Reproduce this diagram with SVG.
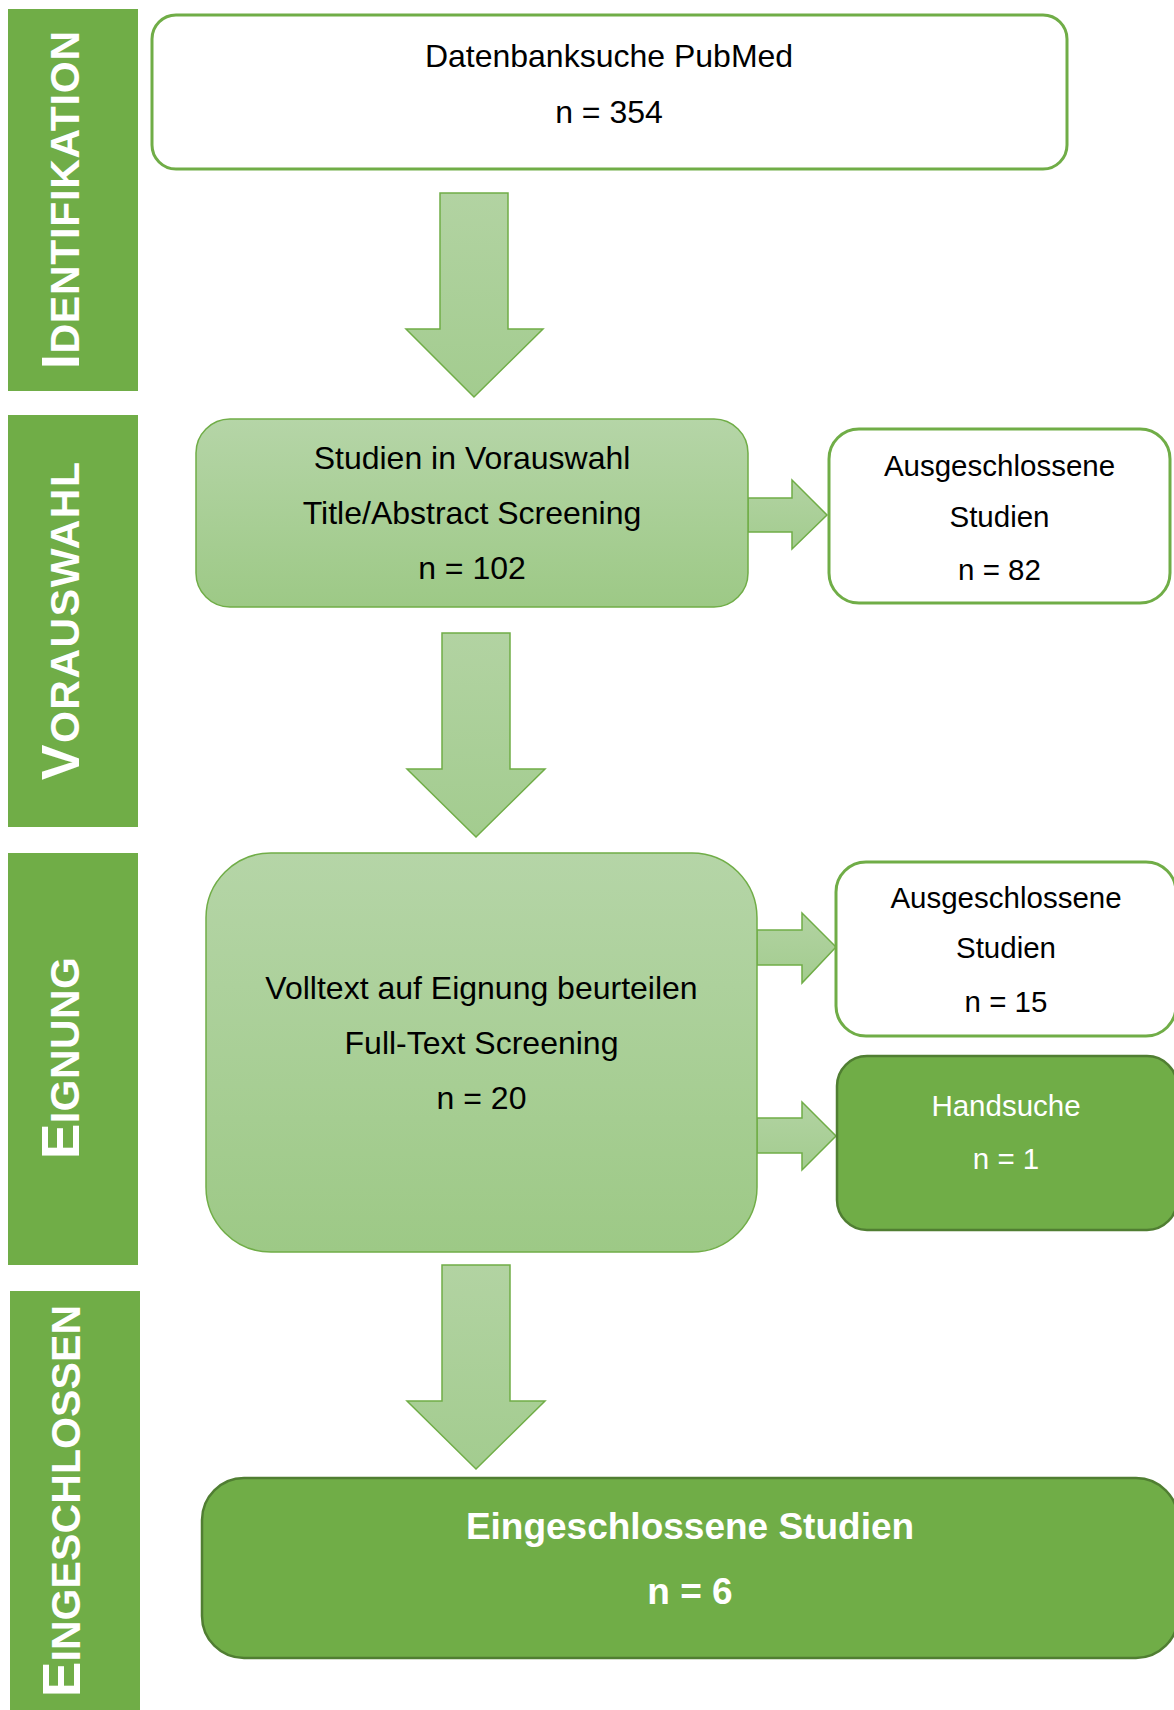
<svg xmlns="http://www.w3.org/2000/svg" width="1174" height="1710" viewBox="0 0 1174 1710">
<defs>
<linearGradient id="gv" x1="0" y1="0" x2="0" y2="1">
<stop offset="0" stop-color="#B5D5A7"/>
<stop offset="1" stop-color="#9DC986"/>
</linearGradient>
<linearGradient id="gh" x1="0" y1="0" x2="0" y2="1">
<stop offset="0" stop-color="#B2D3A2"/>
<stop offset="1" stop-color="#A3CC8F"/>
</linearGradient>
<style>
.bar{fill:#70AD47}
.lab{font-family:"Liberation Sans",Arial,sans-serif;font-weight:bold;fill:#FFFFFF;font-size:41px}
.big{font-size:53px}
.wbox{fill:#FFFFFF;stroke:#70AD47;stroke-width:3}
.gbox{fill:url(#gv);stroke:#70AD47;stroke-width:1.5}
.dbox{fill:#70AD47;stroke:#507E32;stroke-width:2.5}
.t{font-family:"Liberation Sans",Arial,sans-serif;fill:#000000;text-anchor:middle}
.m{font-size:32px}
.s{font-size:29.5px}
.w{fill:#FFFFFF}
.b{font-weight:bold;font-size:37px}
.arr{fill:url(#gh);stroke:#70AD47;stroke-width:1.5;stroke-linejoin:miter}
</style>
</defs>

<g id="phase-identifikation">
<rect class="bar" x="8" y="9" width="130" height="382"/>
<text class="lab" transform="translate(79,369) rotate(-90)" textLength="338" lengthAdjust="spacing"><tspan class="big">I</tspan>DENTIFIKATION</text>
</g>
<g id="phase-vorauswahl">
<rect class="bar" x="8" y="415" width="130" height="412"/>
<text class="lab" transform="translate(79,780) rotate(-90)" textLength="318" lengthAdjust="spacing"><tspan class="big">V</tspan>ORAUSWAHL</text>
</g>
<g id="phase-eignung">
<rect class="bar" x="8" y="853" width="130" height="412"/>
<text class="lab" transform="translate(79,1159) rotate(-90)" textLength="202" lengthAdjust="spacing"><tspan class="big">E</tspan>IGNUNG</text>
</g>
<g id="phase-eingeschlossen">
<rect class="bar" x="10" y="1291" width="130" height="425"/>
<text class="lab" transform="translate(80,1697) rotate(-90)" textLength="392" lengthAdjust="spacing"><tspan class="big">E</tspan>INGESCHLOSSEN</text>
</g>

<g id="connectors">
<polygon class="arr" points="440,193 508,193 508,329 543,329 474,397 406,329 440,329"/>
<polygon class="arr" points="442,633 510,633 510,769 545,769 476,837 407,769 442,769"/>
<polygon class="arr" points="442,1265 510,1265 510,1401 545,1401 476,1469 407,1401 442,1401"/>
<polygon class="arr" points="748,498 792,498 792,480 827,515 792,549 792,532 748,532"/>
<polygon class="arr" points="757,930 802,930 802,913 836,947 802,983 802,965 757,965"/>
<polygon class="arr" points="757,1118 802,1118 802,1102 836,1136 802,1170 802,1153 757,1153"/>
</g>

<g id="node-datenbanksuche">
<rect class="wbox" x="152" y="15" width="915" height="154" rx="24"/>
<text class="t m" x="609" y="67">Datenbanksuche PubMed</text>
<text class="t m" x="609" y="123">n = 354</text>
</g>
<g id="node-vorauswahl">
<rect class="gbox" x="196" y="419" width="552" height="188" rx="34"/>
<text class="t m" x="472" y="469">Studien in Vorauswahl</text>
<text class="t m" x="472" y="524">Title/Abstract Screening</text>
<text class="t m" x="472" y="579">n = 102</text>
</g>
<g id="node-ausgeschlossen-1">
<rect class="wbox" x="829" y="429" width="341" height="174" rx="30"/>
<text class="t s" x="999.5" y="476">Ausgeschlossene</text>
<text class="t s" x="999.5" y="527">Studien</text>
<text class="t s" x="999.5" y="580">n = 82</text>
</g>
<g id="node-volltext">
<rect class="gbox" x="206" y="853" width="551" height="399" rx="65"/>
<text class="t m" x="481.5" y="999">Volltext auf Eignung beurteilen</text>
<text class="t m" x="481.5" y="1054">Full-Text Screening</text>
<text class="t m" x="481.5" y="1109">n = 20</text>
</g>
<g id="node-ausgeschlossen-2">
<rect class="wbox" x="836" y="862" width="340" height="174" rx="30"/>
<text class="t s" x="1006" y="908">Ausgeschlossene</text>
<text class="t s" x="1006" y="958">Studien</text>
<text class="t s" x="1006" y="1012">n = 15</text>
</g>
<g id="node-handsuche">
<rect class="dbox" x="837" y="1056" width="340" height="174" rx="30"/>
<text class="t s w" x="1006" y="1116">Handsuche</text>
<text class="t s w" x="1006" y="1169">n = 1</text>
</g>
<g id="node-eingeschlossen">
<rect class="dbox" x="202" y="1478" width="976" height="180" rx="42"/>
<text class="t b w" x="690" y="1539">Eingeschlossene Studien</text>
<text class="t b w" x="690" y="1604">n = 6</text>
</g>
</svg>
